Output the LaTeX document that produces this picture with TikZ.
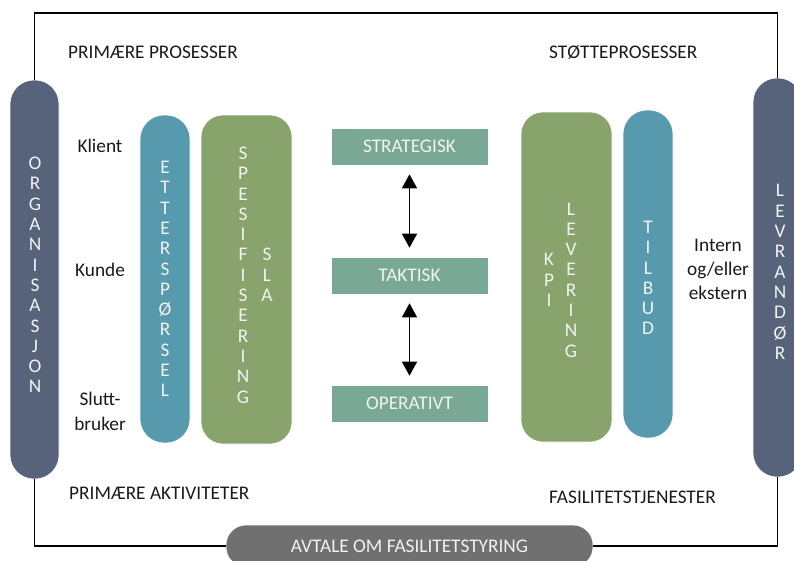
\documentclass[tikz,border=0pt]{standalone}
\usepackage{fontspec}
\setmainfont{Carlito}
\usetikzlibrary{arrows.meta}

\definecolor{slate}{HTML}{57637A}
\definecolor{tealc}{HTML}{5799AD}
\definecolor{greenc}{HTML}{88A36B}
\definecolor{levelc}{HTML}{79A995}
\definecolor{greyc}{HTML}{707070}
\definecolor{inkc}{HTML}{1A1A1A}
\definecolor{letterc}{HTML}{F2F2F2}

\tikzset{
  pill/.style={draw=white, line width=0.6pt, rounded corners=24pt, inner sep=0pt},
  widepill/.style={draw=white, line width=0.6pt, rounded corners=22pt, inner sep=0pt},
  levelbox/.style={fill=levelc, draw=white, line width=0.6pt, minimum width=157pt,
    minimum height=37pt, inner sep=0pt, text=letterc,
    font=\fontsize{19.3}{22}\selectfont},
  letters/.style={align=center, text=letterc, inner sep=0pt,
    font=\fontsize{19.3}{20.3}\selectfont},
  label/.style={text=inkc, inner sep=0pt, font=\fontsize{19.3}{22}\selectfont},
  frame/.style={draw=black, line width=1.3pt},
  updown/.style={{Triangle[width=15pt,length=14pt]}-{Triangle[width=15pt,length=14pt]},
    line width=1.4pt, shorten <=9pt, shorten >=9pt}
}

\begin{document}
\begin{tikzpicture}[x=1pt, y=-1pt]
\useasboundingbox (0,0) rectangle (794,560);
\begin{scope}
\clip (0,0) rectangle (794,560);

% side pillars and the agreement bar
\node[pill, fill=slate, minimum width=49pt, minimum height=399pt] (org) at (34.5,279.5) {};
\node[pill, fill=slate, minimum width=49pt, minimum height=399pt] (lev) at (777.5,277.5) {};
\node[pill, fill=greyc, rounded corners=20pt, minimum width=367pt, minimum height=42pt] (avtale) at (409.5,546) {};

% frame linking the pillars and the agreement bar
\draw[frame] (org.north) |- (lev.north |- 0,13) -- (lev.north);
\draw[frame] (org.south) |- (avtale.west);
\draw[frame] (avtale.east) -| (lev.south);
\end{scope}

\node[text=letterc, inner sep=0pt, font=\fontsize{19.3}{22}\selectfont] (avtaletxt) at (avtale.center) {AVTALE OM FASILITETSTYRING};

% demand side
\node[pill, fill=tealc, minimum width=50pt, minimum height=328pt] (ett) at (165,279) {};
\node[widepill, fill=greenc, minimum width=91pt, minimum height=329pt] (spes) at (246.5,279.5) {};

% supply side
\node[widepill, fill=greenc, minimum width=91pt, minimum height=330pt] (kpi) at (566.5,277) {};
\node[pill, fill=tealc, minimum width=50pt, minimum height=328pt] (tilb) at (648,274) {};

% management levels
\node[levelbox] (strat) at (409.5,146.5) {STRATEGISK};
\node[levelbox] (takt) at (409.5,275.5) {TAKTISK};
\node[levelbox] (oper) at (409.5,403.5) {OPERATIVT};
\draw[updown] (strat.south) -- (takt.north);
\draw[updown] (takt.south) -- (oper.north);

% vertical lettering
\node[letters] (orgtxt) at (35,275) {O\\R\\G\\A\\N\\I\\S\\A\\S\\J\\O\\N};
\node[letters] (etttxt) at (165,279) {E\\T\\T\\E\\R\\S\\P\\Ø\\R\\S\\E\\L};
\node[letters] (spestxt) at (243,275) {S\\P\\E\\S\\I\\F\\I\\S\\E\\R\\I\\N\\G};
\node[letters] (slatxt) at (267,275) {S\\L\\A};
\node[letters] (kpitxt) at (549,280) {K\\P\\I};
\node[letters] (levtxt) at (571,280) {L\\E\\V\\E\\R\\I\\N\\G};
\node[letters] (tilbtxt) at (648,278) {T\\I\\L\\B\\U\\D};
\node[letters] (levrtxt) at (780,272) {L\\E\\V\\R\\A\\N\\D\\Ø\\R};

% headings
\node[label, anchor=west] (pp) at (68,52) {PRIMÆRE PROSESSER};
\node[label, anchor=west] (sp) at (549,52) {STØTTEPROSESSER};
\node[label, anchor=west] (pa) at (69,493) {PRIMÆRE AKTIVITETER};
\node[label, anchor=west] (ft) at (549,497) {FASILITETSTJENESTER};

% parties
\node[label] (klient) at (100,146) {Klient};
\node[label] (kunde) at (100,270) {Kunde};
\node[label, align=center, font=\fontsize{19.3}{25}\selectfont] (slutt) at (100,411) {Slutt-\\bruker};
\node[label, align=center, font=\fontsize{19.3}{24}\selectfont] (intern) at (718,269) {Intern\\og/eller\\ekstern};
\end{tikzpicture}
\end{document}
